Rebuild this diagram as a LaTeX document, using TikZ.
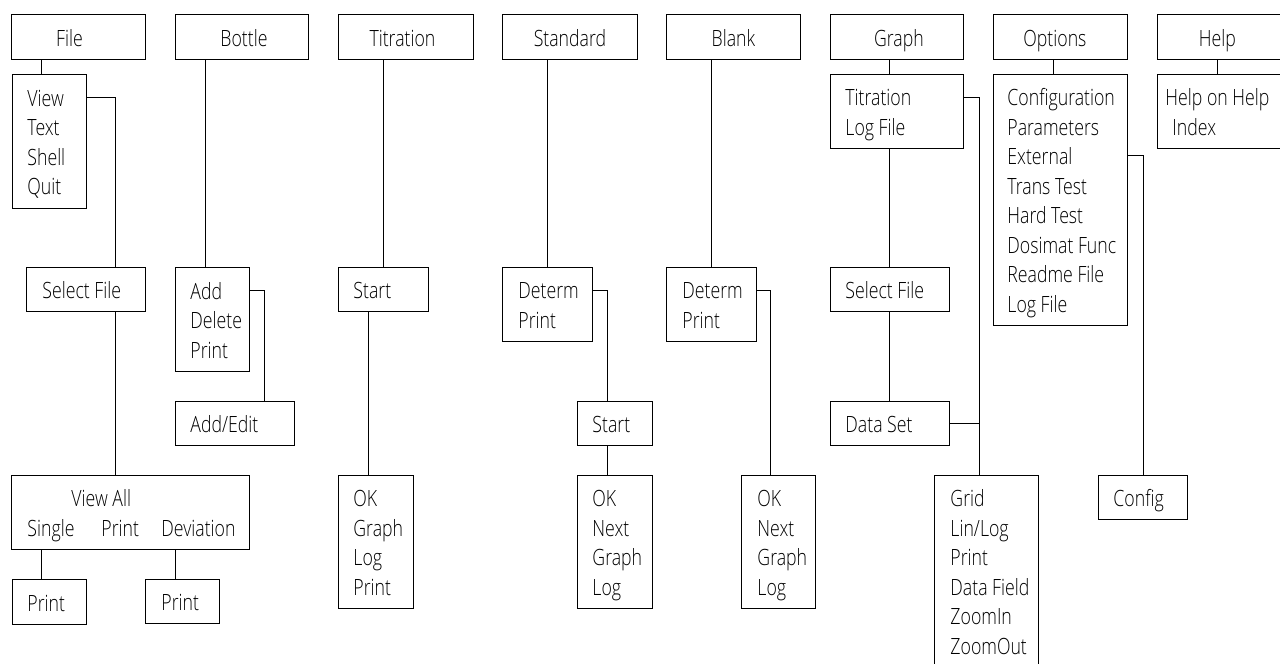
\documentclass[tikz,border=0pt]{standalone}
\usepackage{fontspec}
\usepackage{array}
\newfontfamily\mf{Open Sans Light}[FakeStretch=0.79]
\newcommand\rowstrut{\rule[-5.5pt]{0pt}{29.5pt}}
\newcolumntype{L}{@{}>{\rowstrut}l@{}}
% left aligned rows: width, left padding, rows
\newcommand\ltext[3]{\makebox[#1][l]{\hspace*{#2}\renewcommand\arraystretch{0}\begin{tabular}{L}#3\end{tabular}}}
% centred single line: width, shift of centre, text
\newcommand\ctext[3]{\makebox[#1][l]{\hspace*{\dimexpr#1/2+#2\relax}\makebox[0pt][c]{\rowstrut#3}}}
\tikzset{
  bx/.style={draw, line width=0.9pt, inner sep=0pt, anchor=north west,
    font=\mf\fontsize{22.4}{29.5}\selectfont},
  ln/.style={line width=0.9pt},
}
\begin{document}
\begin{tikzpicture}[x=1pt,y=-1pt]
\useasboundingbox (0,0) rectangle (1280,664);
% top row
\node[bx, minimum height=45pt] (file)  at (11,14)  {\ctext{134pt}{-9pt}{File}};
\node[bx, minimum height=45pt] (bottle) at (175,14) {\ctext{133pt}{2pt}{Bottle}};
\node[bx, minimum height=45pt] (titr)  at (338,14) {\ctext{135pt}{-3.5pt}{Titration}};
\node[bx, minimum height=45pt] (std)   at (502,14) {\ctext{135pt}{0pt}{Standard}};
\node[bx, minimum height=45pt] (blank) at (666,14) {\ctext{134pt}{0pt}{Blank}};
\node[bx, minimum height=45pt] (graph) at (830,14) {\ctext{133pt}{2pt}{Graph}};
\node[bx, minimum height=45pt] (opt)   at (993,14) {\ctext{134pt}{-5.5pt}{Options}};
\node[bx, minimum height=45pt] (help)  at (1157,14) {\ctext{134pt}{-7pt}{Help}};
% File column
\node[bx, minimum height=134pt] (fileM) at (12,74) {\ltext{74pt}{15pt}{View\\Text\\Shell\\Quit}};
\node[bx, minimum height=44pt] (selF) at (26,267) {\ltext{119pt}{16pt}{Select File}};
\node[bx, minimum height=74pt] (viewAll) at (11,475) {\ltext{238pt}{16pt}{\hspace*{44pt}View All\\\makebox[74pt][l]{Single}\makebox[60pt][l]{Print}Deviation}};
\node[bx, minimum height=45pt] (pr1) at (12,579) {\ltext{74pt}{15pt}{Print}};
\node[bx, minimum height=44pt] (pr2) at (145,579) {\ltext{74pt}{16pt}{Print}};
% Bottle column
\node[bx, minimum height=104pt] (botM) at (175,267) {\ltext{74pt}{15pt}{Add\\Delete\\Print}};
\node[bx, minimum height=44pt] (addE) at (175,401) {\ltext{119pt}{15pt}{Add/Edit}};
% Titration column
\node[bx, minimum height=44pt] (tStart) at (338,267) {\ltext{90pt}{15pt}{Start}};
\node[bx, minimum height=133pt] (tOK) at (338,475) {\ltext{75pt}{15pt}{OK\\Graph\\Log\\Print}};
% Standard column
\node[bx, minimum height=74pt] (sDet) at (502,267) {\ltext{90pt}{16pt}{Determ\\Print}};
\node[bx, minimum height=44pt] (sStart) at (577,401) {\ltext{75pt}{15pt}{Start}};
\node[bx, minimum height=133pt] (sOK) at (577,475) {\ltext{75pt}{15pt}{OK\\Next\\Graph\\Log}};
% Blank column
\node[bx, minimum height=74pt] (bDet) at (666,267) {\ltext{90pt}{16pt}{Determ\\Print}};
\node[bx, minimum height=133pt] (bOK) at (741,475) {\ltext{74pt}{16pt}{OK\\Next\\Graph\\Log}};
% Graph column
\node[bx, minimum height=74pt] (gM) at (830,74) {\ltext{133pt}{15pt}{Titration\\Log File}};
\node[bx, minimum height=44pt] (gSel) at (830,267) {\ltext{119pt}{15pt}{Select File}};
\node[bx, minimum height=44pt] (gData) at (830,401) {\ltext{119pt}{15pt}{Data Set}};
\node[bx, minimum height=192pt] (grid) at (934,475) {\ltext{104pt}{16pt}{Grid\\Lin/Log\\Print\\Data Field\\ZoomIn\\ZoomOut}};
% Options column
\node[bx, minimum height=251pt] (optM) at (993,74) {\ltext{134pt}{14pt}{Configuration\\Parameters\\External\\Trans Test\\Hard Test\\Dosimat Func\\Readme File\\Log File}};
\node[bx, minimum height=44pt] (config) at (1098,475) {\ltext{89pt}{15pt}{Config}};
% Help column
\node[bx, minimum height=74pt] (helpM) at (1157,74) {\ltext{134pt}{8pt}{Help on Help\\\hspace*{7pt}Index}};
% junction on the Graph connector
\coordinate (gj) at (979,423);
% connectors
\draw[ln] (file.south -| 41,0) -- (fileM.north -| 41,0);
\draw[ln] (fileM.east |- 0,97) -| (selF.north -| 115,0);
\draw[ln] (selF.south -| 115,0) -- (viewAll.north -| 115,0);
\draw[ln] (viewAll.south -| 41,0) -- (pr1.north -| 41,0);
\draw[ln] (viewAll.south -| 175,0) -- (pr2.north -| 175,0);
\draw[ln] (bottle.south -| 205,0) -- (botM.north -| 205,0);
\draw[ln] (botM.east |- 0,290) -| (addE.north -| 264,0);
\draw[ln] (titr.south -| 383,0) -- (tStart.north -| 383,0);
\draw[ln] (tStart.south -| 368,0) -- (tOK.north -| 368,0);
\draw[ln] (std.south -| 547,0) -- (sDet.north -| 547,0);
\draw[ln] (sDet.east |- 0,290) -| (sStart.north -| 607,0);
\draw[ln] (sStart.south -| 607,0) -- (sOK.north -| 607,0);
\draw[ln] (blank.south -| 711,0) -- (bDet.north -| 711,0);
\draw[ln] (bDet.east |- 0,290) -| (bOK.north -| 770,0);
\draw[ln] (graph.south -| 889,0) -- (gM.north -| 889,0);
\draw[ln] (gM.south -| 889,0) -- (gSel.north -| 889,0);
\draw[ln] (gSel.south -| 889,0) -- (gData.north -| 889,0);
\draw[ln] (gM.east |- 0,97) -| (grid.north -| 979,0);
\draw[ln] (gData.east) -- (gData.east -| gj);
\draw[ln] (opt.south -| 1053,0) -- (optM.north -| 1053,0);
\draw[ln] (optM.east |- 0,155) -| (config.north -| 1143,0);
\draw[ln] (help.south -| 1217,0) -- (helpM.north -| 1217,0);
\end{tikzpicture}
\end{document}
